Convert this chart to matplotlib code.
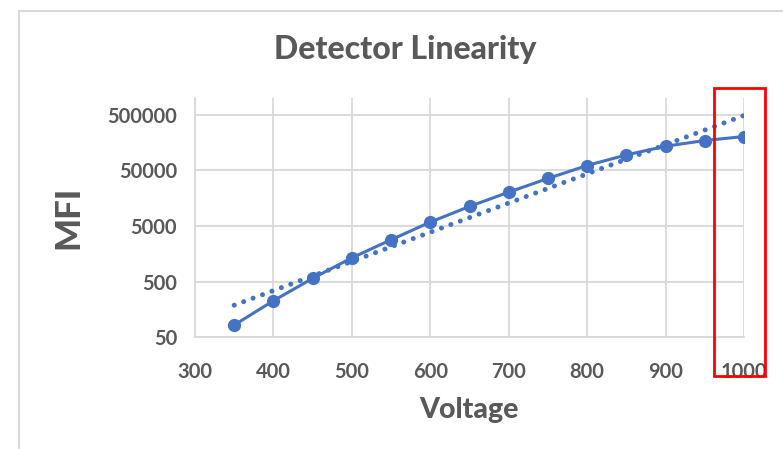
import numpy as np
import matplotlib
matplotlib.use('Agg')
import matplotlib.pyplot as plt
from matplotlib.lines import Line2D
from matplotlib.patches import Rectangle

voltage = [350, 400, 450, 500, 550, 600, 650, 700, 750, 800, 850, 900, 950, 1000]
mfi = [83, 227, 573, 1340, 2830, 5880, 11250, 20300, 35800, 61200, 94900, 135900, 172200, 203000]
x_ticks = [300, 400, 500, 600, 700, 800, 900, 1000]
y_ticks = [50, 500, 5000, 50000, 500000]

blue = '#4472C4'
grey = '#595959'
grid = '#D9D9D9'

plt.rcParams['font.family'] = ['Lato', 'DejaVu Sans']

fig = plt.figure(figsize=(7.83, 4.49), dpi=100)
ax = fig.add_axes([195 / 783, 1 - 337.3 / 449, (744 - 195) / 783, (337.3 - 98) / 449])

ax.set_yscale('log')
ax.set_xlim(300, 1000)
ax.set_ylim(50, 1e6)

# exponential trendline (straight line in log space)
x = np.array(voltage, dtype=float)
k, b = np.polyfit(x, np.log10(mfi), 1)
ax.plot(x, 10 ** (k * x + b), color=blue, lw=3.6, linestyle=(0, (0.01, 2.0)),
        dash_capstyle='round', zorder=3)

ax.plot(voltage, mfi, color=blue, lw=2.2, marker='o', markersize=8.5, zorder=4)

ax.set_xticks(x_ticks)
ax.set_xticklabels([str(v) for v in x_ticks])
ax.set_yticks(y_ticks)
ax.set_yticklabels([str(v) for v in y_ticks])
ax.yaxis.set_minor_locator(matplotlib.ticker.NullLocator())
ax.tick_params(length=0, labelsize=14.5, labelcolor=grey)
ax.tick_params(axis='y', pad=13)
ax.tick_params(axis='x', pad=18)
for lab in ax.get_xticklabels() + ax.get_yticklabels():
    lab.set_fontweight('bold')

ax.grid(True, color=grid, lw=1.3)
ax.set_axisbelow(True)
for side in ['top', 'right']:
    ax.spines[side].set_visible(False)
for side in ['left', 'bottom']:
    ax.spines[side].set_color(grid)
    ax.spines[side].set_linewidth(1.3)

fig.text(405 / 783, 1 - 50 / 449, 'Detector Linearity', ha='center', va='center',
         fontsize=23, fontweight='black', color=grey)
fig.text(469 / 783, 1 - 410 / 449, 'Voltage', ha='center', va='center',
         fontsize=20.5, fontweight='black', color=grey)
fig.text(68 / 783, 1 - 217 / 449, 'MFI', ha='center', va='center', rotation=90,
         fontsize=25, fontweight='black', color=grey)

# chart frame (top and left edges)
fig.add_artist(Line2D([19 / 783, 19 / 783], [0, 1 - 10.5 / 449], transform=fig.transFigure,
                      color=grid, lw=1.5))
fig.add_artist(Line2D([19 / 783, 1], [1 - 10.5 / 449, 1 - 10.5 / 449], transform=fig.transFigure,
                      color=grid, lw=1.5))

# highlight box around the 1000 V point
fig.add_artist(Rectangle((714 / 783, 1 - 376 / 449), 51 / 783, 288 / 449,
                         transform=fig.transFigure, fill=False, edgecolor='#FF0000', lw=2))

fig.savefig('out.png', dpi=100)
